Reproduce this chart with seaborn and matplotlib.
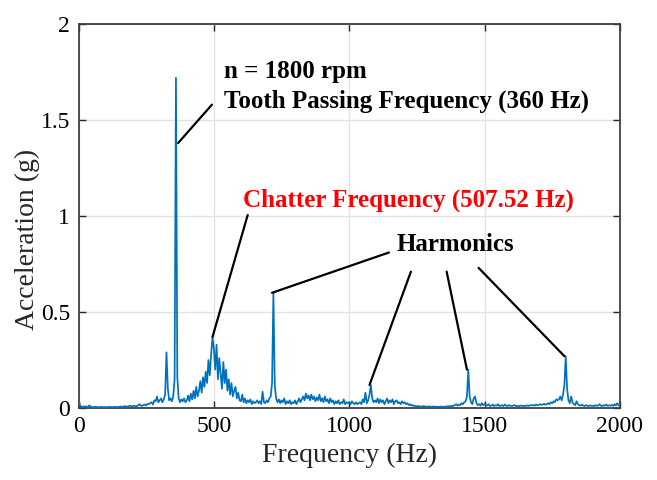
import numpy as np
import pandas as pd
import matplotlib
matplotlib.use("Agg")
import matplotlib.pyplot as plt
import seaborn as sns

# Acceleration spectrum, 5 Hz bins from 0 to 2000 Hz
freq_step = 5
accel_g = [
    # 0-95 Hz
    0.05, 0.012, 0.008, 0.006, 0.007, 0.009, 0.006, 0.005, 0.014, 0.006,
    0.005, 0.004, 0.006, 0.005, 0.004, 0.005, 0.004, 0.006, 0.004, 0.005,
    # 100-195 Hz
    0.004, 0.005, 0.004, 0.006, 0.005, 0.004, 0.005, 0.006, 0.004, 0.005,
    0.006, 0.008, 0.006, 0.007, 0.010, 0.008, 0.007, 0.009, 0.012, 0.010,
    # 200-295 Hz
    0.008, 0.012, 0.010, 0.009, 0.014, 0.020, 0.012, 0.011, 0.016, 0.018,
    0.013, 0.022, 0.020, 0.025, 0.030, 0.018, 0.040, 0.035, 0.060, 0.030,
    # 300-395 Hz
    0.040, 0.050, 0.030, 0.045, 0.070, 0.290, 0.100, 0.040, 0.050, 0.035,
    0.060, 0.150, 1.720, 0.160, 0.050, 0.030, 0.045, 0.035, 0.050, 0.030,
    # 400-495 Hz
    0.040, 0.065, 0.035, 0.075, 0.045, 0.090, 0.050, 0.110, 0.060, 0.090,
    0.140, 0.080, 0.160, 0.110, 0.190, 0.130, 0.250, 0.170, 0.280, 0.370,
    # 500-595 Hz
    0.310, 0.200, 0.330, 0.150, 0.260, 0.180, 0.100, 0.240, 0.130, 0.200,
    0.090, 0.150, 0.070, 0.130, 0.060, 0.090, 0.110, 0.050, 0.080, 0.040,
    # 600-695 Hz
    0.035, 0.070, 0.030, 0.050, 0.025, 0.040, 0.030, 0.045, 0.020, 0.035,
    0.025, 0.030, 0.040, 0.025, 0.035, 0.020, 0.085, 0.030, 0.025, 0.040,
    # 700-795 Hz
    0.030, 0.050, 0.060, 0.130, 0.600, 0.120, 0.050, 0.030, 0.045, 0.025,
    0.040, 0.030, 0.050, 0.020, 0.035, 0.025, 0.040, 0.020, 0.030, 0.025,
    # 800-895 Hz
    0.040, 0.020, 0.035, 0.050, 0.030, 0.045, 0.060, 0.040, 0.075, 0.050,
    0.065, 0.040, 0.070, 0.045, 0.060, 0.035, 0.055, 0.040, 0.070, 0.035,
    # 900-995 Hz
    0.050, 0.030, 0.060, 0.035, 0.045, 0.025, 0.050, 0.030, 0.040, 0.020,
    0.035, 0.025, 0.040, 0.020, 0.030, 0.025, 0.045, 0.020, 0.030, 0.025,
    # 1000-1095 Hz
    0.030, 0.020, 0.035, 0.025, 0.020, 0.030, 0.020, 0.025, 0.030, 0.020,
    0.045, 0.030, 0.080, 0.025, 0.040, 0.070, 0.120, 0.050, 0.030, 0.040,
    # 1100-1195 Hz
    0.030, 0.050, 0.025, 0.045, 0.030, 0.040, 0.020, 0.035, 0.050, 0.025,
    0.040, 0.030, 0.045, 0.020, 0.035, 0.040, 0.025, 0.030, 0.020, 0.035,
    # 1200-1295 Hz
    0.025, 0.030, 0.020, 0.025, 0.015, 0.020, 0.012, 0.015, 0.010, 0.012,
    0.008, 0.010, 0.009, 0.007, 0.008, 0.010, 0.007, 0.008, 0.006, 0.008,
    # 1300-1395 Hz
    0.007, 0.006, 0.008, 0.006, 0.007, 0.005, 0.007, 0.006, 0.008, 0.006,
    0.007, 0.006, 0.009, 0.007, 0.010, 0.008, 0.012, 0.010, 0.015, 0.020,
    # 1400-1495 Hz
    0.012, 0.018, 0.015, 0.025, 0.020, 0.030, 0.035, 0.060, 0.200, 0.060,
    0.030, 0.020, 0.050, 0.060, 0.025, 0.015, 0.020, 0.012, 0.025, 0.015,
    # 1500-1595 Hz
    0.020, 0.012, 0.015, 0.020, 0.010, 0.012, 0.018, 0.010, 0.015, 0.012,
    0.020, 0.010, 0.012, 0.015, 0.010, 0.018, 0.012, 0.010, 0.015, 0.012,
    # 1600-1695 Hz
    0.010, 0.012, 0.015, 0.010, 0.012, 0.009, 0.011, 0.013, 0.010, 0.012,
    0.010, 0.014, 0.011, 0.012, 0.015, 0.013, 0.016, 0.012, 0.018, 0.014,
    # 1700-1795 Hz
    0.015, 0.020, 0.016, 0.018, 0.022, 0.017, 0.020, 0.025, 0.020, 0.030,
    0.025, 0.035, 0.030, 0.045, 0.040, 0.045, 0.060, 0.040, 0.070, 0.120,
    # 1800-1895 Hz
    0.270, 0.100, 0.040, 0.025, 0.060, 0.030, 0.020, 0.015, 0.035, 0.020,
    0.015, 0.012, 0.018, 0.012, 0.010, 0.015, 0.012, 0.010, 0.014, 0.011,
    # 1900-1995 Hz
    0.012, 0.010, 0.015, 0.011, 0.013, 0.020, 0.012, 0.010, 0.015, 0.012,
    0.018, 0.011, 0.014, 0.012, 0.016, 0.011, 0.020, 0.013, 0.025, 0.015,
    # 2000 Hz
    0.020,
]
freq_hz = np.arange(len(accel_g)) * freq_step

x_ticks = [0, 500, 1000, 1500, 2000]
x_tick_labels = ["0", "500", "1000", "1500", "2000"]
y_ticks = [0, 0.5, 1, 1.5, 2]
y_tick_labels = ["0", "0.5", "1", "1.5", "2"]

tooth_freq = 360
chatter_peak_freq = 495
harmonic_freqs = [720, 1080, 1440, 1800]

df = pd.DataFrame({"Frequency (Hz)": freq_hz, "Acceleration (g)": accel_g})


def amp_at(f):
    return accel_g[int(round(f / freq_step))]


sns.set_theme(style="ticks")
plt.rcParams["font.family"] = ["Liberation Serif", "DejaVu Serif"]

fig = plt.figure(figsize=(6.57, 4.8), dpi=100)
ax = fig.add_axes([0.1195, 0.15, 0.824, 0.80])

sns.lineplot(data=df, x="Frequency (Hz)", y="Acceleration (g)", ax=ax,
             color="#0072BD", linewidth=1.25, estimator=None, zorder=3)

ax.set_xlim(0, 2000)
ax.set_ylim(0, 2)
ax.set_xticks(x_ticks)
ax.set_xticklabels(x_tick_labels)
ax.set_yticks(y_ticks)
ax.set_yticklabels(y_tick_labels)
ax.grid(True, color="#e3e3e3", linewidth=1.0, zorder=0)
ax.set_axisbelow(True)
ax.tick_params(direction="in", length=5, width=1.0, top=True, right=True,
               labelsize=17, colors="#262626", labelcolor="black", pad=6)
for sp in ax.spines.values():
    sp.set_color("#404040")
    sp.set_linewidth(1.3)
ax.set_xlabel("Frequency (Hz)", fontsize=20, labelpad=4)
ax.set_ylabel("Acceleration (g)", fontsize=20)
ax.yaxis.set_label_coords(-0.072, 0.44)

bold = dict(fontsize=18, fontweight="bold", va="center", ha="left")
line = dict(arrowstyle="-", color="black", lw=1.6, shrinkA=0, shrinkB=0)

ax.text(537, 1.755, "n = 1800 rpm", color="black", **bold)
ax.text(537, 1.60, "Tooth Passing Frequency (360 Hz)", color="black", **bold)
ax.annotate("", xy=(tooth_freq + 8, 1.38), xytext=(493, 1.58), arrowprops=line)

ax.text(607, 1.083, "Chatter Frequency (507.52 Hz)", color="#FF0000", **bold)
ax.annotate("", xy=(chatter_peak_freq, amp_at(chatter_peak_freq)),
            xytext=(625, 1.005), arrowprops=line)

ax.text(1176, 0.85, "Harmonics", color="black", **bold)
harm_starts = [(1147, 0.81), (1228, 0.71), (1360, 0.71), (1478, 0.73)]
for f, start in zip(harmonic_freqs, harm_starts):
    ax.annotate("", xy=(f - 5, amp_at(f)), xytext=start, arrowprops=line)

fig.savefig("out.png", dpi=100)
